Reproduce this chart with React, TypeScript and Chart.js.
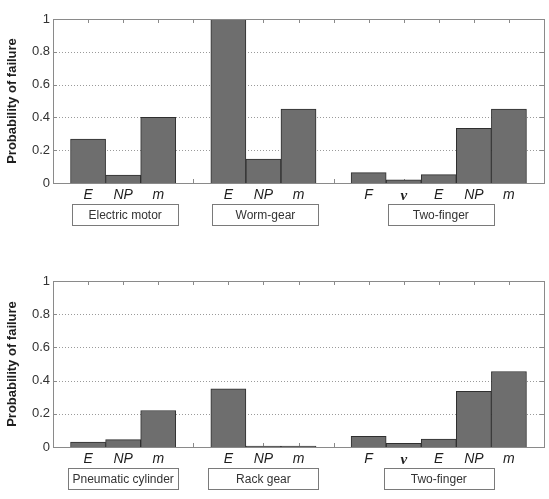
import { useEffect, useRef } from "react";
import { Chart, registerables } from "chart.js";

Chart.register(...registerables);

// Category slots: empty slots pad the ends and separate the three components.
const parameterLabels = ["", "E", "NP", "m", "", "E", "NP", "m", "", "F", "ν", "E", "NP", "m", ""];
const groupCenterSlots = [2, 6, 11];

const topGroups = ["Electric motor", "Worm-gear", "Two-finger"];
const bottomGroups = ["Pneumatic cylinder", "Rack gear", "Two-finger"];

const topFailure = [null, 0.268, 0.049, 0.4, null, 1.0, 0.146, 0.45, null, 0.063, 0.02, 0.051, 0.333, 0.45, null];
const bottomFailure = [null, 0.03, 0.044, 0.22, null, 0.35, 0.005, 0.005, null, 0.064, 0.022, 0.048, 0.335, 0.455, null];

const yGridValues = [0.2, 0.4, 0.6, 0.8];

const FRAME = "#8a8a8a";
const SANS = '"Liberation Sans", Arial, sans-serif';

// Dotted grid, inward ticks, box frame and the labelled component boxes.
const framePlugin = {
  id: "matlabFrame",
  beforeDatasetsDraw(chart: any) {
    const { ctx, chartArea: a, scales } = chart;
    const x = scales.x;
    const y = scales.y;
    ctx.save();
    ctx.strokeStyle = "#9a9a9a";
    ctx.lineWidth = 1;
    ctx.setLineDash([1, 2]);
    yGridValues.forEach((v) => {
      const py = Math.round(y.getPixelForValue(v)) + 0.5;
      ctx.beginPath();
      ctx.moveTo(a.left, py);
      ctx.lineTo(a.right, py);
      ctx.stroke();
    });
    ctx.setLineDash([]);
    ctx.strokeStyle = FRAME;
    const tl = 4;
    for (let i = 1; i < parameterLabels.length - 1; i++) {
      const px = Math.round(x.getPixelForValue(i)) + 0.5;
      ctx.beginPath();
      ctx.moveTo(px, a.top);
      ctx.lineTo(px, a.top + tl);
      ctx.moveTo(px, a.bottom);
      ctx.lineTo(px, a.bottom - tl);
      ctx.stroke();
    }
    yGridValues.forEach((v) => {
      const py = Math.round(y.getPixelForValue(v)) + 0.5;
      ctx.beginPath();
      ctx.moveTo(a.left, py);
      ctx.lineTo(a.left + tl, py);
      ctx.moveTo(a.right, py);
      ctx.lineTo(a.right - tl, py);
      ctx.stroke();
    });
    ctx.restore();
  },
  afterDraw(chart: any, _args: any, opts: any) {
    const { ctx, chartArea: a, scales } = chart;
    const x = scales.x;
    ctx.save();
    ctx.strokeStyle = FRAME;
    ctx.lineWidth = 1;
    ctx.strokeRect(Math.round(a.left) + 0.5, Math.round(a.top) + 0.5, Math.round(a.right - a.left), Math.round(a.bottom - a.top));

    const groups: string[] = opts.groups || [];
    const w = opts.boxWidth;
    const top = Math.round(a.bottom) + 21;
    const h = 21;
    ctx.font = `12px ${SANS}`;
    ctx.textAlign = "center";
    ctx.textBaseline = "middle";
    groups.forEach((name, i) => {
      const cx = x.getPixelForValue(groupCenterSlots[i]) + opts.shift;
      const left = Math.round(cx - w / 2) + 0.5;
      ctx.fillStyle = "#ffffff";
      ctx.fillRect(left, top + 0.5, w, h);
      ctx.strokeStyle = "#7a7a7a";
      ctx.strokeRect(left, top + 0.5, w, h);
      ctx.fillStyle = "#333333";
      ctx.fillText(name, cx, top + h / 2 + 1);
    });
    ctx.restore();
  },
};

function makeConfig(values: (number | null)[], groups: string[], padTop: number, xHeight: number, boxWidth: number, shift: number): any {
  return {
    type: "bar",
    data: {
      labels: parameterLabels,
      datasets: [
        {
          data: values,
          backgroundColor: "#6e6e6e",
          borderColor: "#2f2f2f",
          borderWidth: 1,
          barPercentage: 1,
          categoryPercentage: 1,
        },
      ],
    },
    options: {
      responsive: false,
      animation: false,
      layout: { padding: { top: padTop, right: 5, left: 0, bottom: 0 } },
      plugins: {
        legend: { display: false },
        tooltip: { enabled: false },
        matlabFrame: { groups, boxWidth, shift },
      },
      scales: {
        x: {
          type: "category",
          offset: false,
          grid: { display: false, drawTicks: false },
          border: { display: false },
          afterFit: (s: any) => {
            s.height = xHeight;
          },
          ticks: {
            autoSkip: false,
            maxRotation: 0,
            minRotation: 0,
            padding: 4,
            color: "#1e1e1e",
            font: (c: any) =>
              parameterLabels[c.index] === "ν"
                ? { family: '"Liberation Serif", "DejaVu Serif", serif', size: 15, style: "italic", weight: "bold" }
                : { family: SANS, size: 14, style: "italic" },
          },
        },
        y: {
          min: 0,
          max: 1,
          grid: { display: false, drawTicks: false },
          border: { display: false },
          afterFit: (s: any) => {
            s.width = 53;
          },
          ticks: {
            stepSize: 0.2,
            padding: 3,
            color: "#333333",
            font: { family: SANS, size: 13 },
            callback: (v: number) => String(Math.round(v * 10) / 10),
          },
          title: {
            display: true,
            text: "Probability of failure",
            color: "#1e1e1e",
            font: { family: SANS, size: 13, weight: "bold" },
            padding: { top: 5, bottom: 0 },
          },
        },
      },
    },
    plugins: [framePlugin],
  };
}

function FailureChart(props: { values: (number | null)[]; groups: string[]; height: number; padTop: number; xHeight: number; boxWidth: number; shift: number }) {
  const ref = useRef<HTMLCanvasElement>(null);
  useEffect(() => {
    if (!ref.current) return;
    const chart = new Chart(ref.current, makeConfig(props.values, props.groups, props.padTop, props.xHeight, props.boxWidth, props.shift));
    return () => chart.destroy();
  }, []);
  return <canvas ref={ref} width={549} height={props.height} style={{ display: "block", width: 549, height: props.height }} />;
}

export default function App() {
  return (
    <div style={{ position: "absolute", left: 0, top: 0, width: 549, height: 499, background: "#ffffff" }}>
      <FailureChart values={topFailure} groups={topGroups} height={250} padTop={19} xHeight={67} boxWidth={106} shift={2} />
      <FailureChart values={bottomFailure} groups={bottomGroups} height={249} padTop={31} xHeight={52} boxWidth={110} shift={0} />
    </div>
  );
}
